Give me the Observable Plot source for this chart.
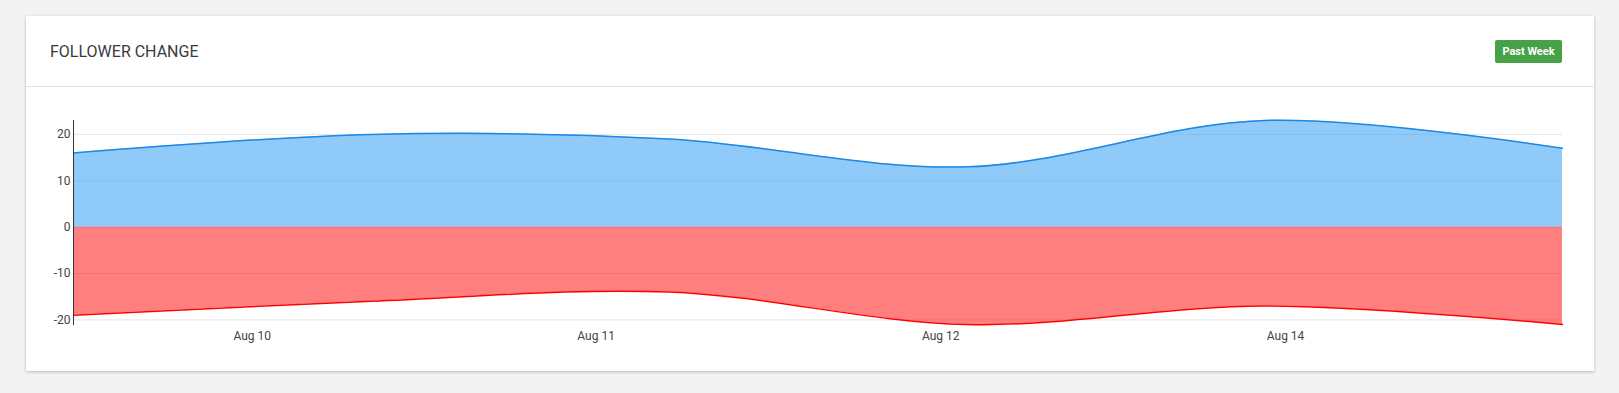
<!DOCTYPE html>
<html>
<head>
<meta charset="utf-8">
<script src="https://cdn.jsdelivr.net/npm/d3@7"></script>
<script src="https://cdn.jsdelivr.net/npm/@observablehq/plot@0.6"></script>
<style>
  html, body { margin: 0; padding: 0; background: #f3f3f3; width: 1619px; height: 393px; overflow: hidden; font-family: Roboto, sans-serif; }
  .card { position: absolute; left: 26px; top: 16px; width: 1568px; height: 355px; background: #fff; box-shadow: 0 1px 3px rgba(0,0,0,0.25); }
  .header { position: relative; height: 71px; border-bottom: 1px solid #e2e2e2; box-sizing: border-box; }
  .title { position: absolute; left: 24px; top: 26px; font-size: 16px; color: #3a3a3a; font-weight: 400; }
  .badge { position: absolute; left: 1469px; top: 24px; width: 67px; height: 23px; background: #46a147; border-radius: 2px; color: #fff; font-weight: 700; font-size: 11px; line-height: 23px; text-align: center; }
  #chart { position: absolute; left: 0; top: 72px; }
</style>
</head>
<body>
<div class="card">
  <div class="header">
    <div class="title">FOLLOWER CHANGE</div>
    <div class="badge">Past Week</div>
  </div>
  <div id="chart"></div>
</div>
<script>
// data points (equally spaced samples over the past week)
const pointIndex = [0, 1, 2, 3, 4, 5];
const gained = [16, 20, 19, 13, 23, 17];
const lost = [-19, -16, -14, -21, -17, -21];
// x-axis tick positions (in point-index units) and their labels
const xTickValues = [0.6, 1.755, 2.912, 4.07];
const xTickLabels = ["Aug 10", "Aug 11", "Aug 12", "Aug 14"];
const yTickValues = [-20, -10, 0, 10, 20];

const gainedData = pointIndex.map((x, i) => ({x, y: gained[i]}));
const lostData = pointIndex.map((x, i) => ({x, y: lost[i]}));

const chart = Plot.plot({
  width: 1568,
  height: 282,
  marginLeft: 47,
  marginRight: 32,
  marginTop: 32,
  marginBottom: 46,
  style: {fontFamily: "Roboto, sans-serif", fontSize: "12px", color: "#444", background: "transparent", overflow: "visible"},
  x: {domain: [0, 5], label: null},
  y: {domain: [-21, 23], label: null},
  marks: [
    Plot.gridY(yTickValues, {stroke: "#000", strokeOpacity: 0.1}),
    Plot.areaY(gainedData, {x: "x", y: "y", curve: "catmull-rom", fill: "#2196f3", fillOpacity: 0.5}),
    Plot.areaY(lostData, {x: "x", y: "y", curve: "catmull-rom", fill: "#ff0000", fillOpacity: 0.5}),
    Plot.lineY(gainedData, {x: "x", y: "y", curve: "catmull-rom", stroke: "#1e88e5", strokeWidth: 1.5}),
    Plot.lineY(lostData, {x: "x", y: "y", curve: "catmull-rom", stroke: "#ff0000", strokeWidth: 1.5}),
    Plot.axisY({ticks: yTickValues, tickSize: 0, tickPadding: 3, tickFormat: d => String(d), label: null}),
    Plot.axisX({ticks: xTickValues, tickSize: 0, tickPadding: 7, tickFormat: (d, i) => xTickLabels[i], label: null}),
    Plot.frame({anchor: "left", stroke: "#333", strokeWidth: 1})
  ]
});
document.getElementById("chart").appendChild(chart);
</script>
</body>
</html>
